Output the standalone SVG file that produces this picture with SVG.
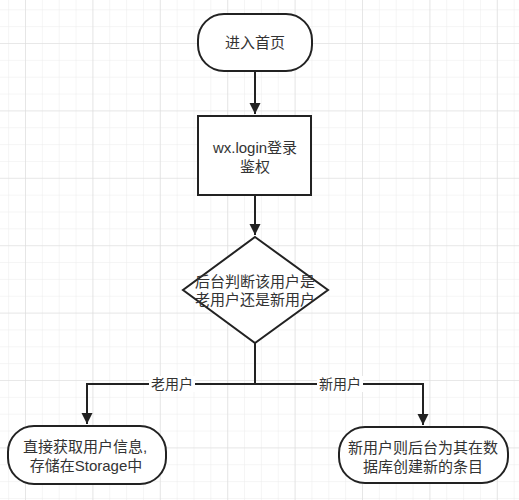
<svg xmlns="http://www.w3.org/2000/svg" width="519" height="500" viewBox="0 0 519 500">
<defs>
<pattern id="minor" x="25" y="43" width="16.85" height="16.85" patternUnits="userSpaceOnUse">
<path d="M0 0H16.85M0 0V16.85" fill="none" stroke="#ececec" stroke-width="1"/>
</pattern>
<pattern id="major" x="25" y="43" width="67.4" height="67.4" patternUnits="userSpaceOnUse">
<path d="M0 0H67.4M0 0V67.4" fill="none" stroke="#dcdcdc" stroke-width="1.2"/>
</pattern>
<marker id="arr" viewBox="0 0 10 10" refX="10" refY="5" markerWidth="5.5" markerHeight="6" orient="auto" markerUnits="strokeWidth">
<path d="M0 0L10 5L0 10z" fill="#222"/>
</marker>
<style>
.shape{fill:#fff;stroke:#222;stroke-width:2}
.t{font-family:"Liberation Sans","Noto Sans CJK SC",sans-serif;font-size:15px;fill:#333;text-anchor:middle}
.lbl{font-family:"Liberation Sans","Noto Sans CJK SC",sans-serif;font-size:14px;fill:#333;text-anchor:middle}
.edge{fill:none;stroke:#222;stroke-width:2}
</style>
</defs>
<rect width="519" height="500" fill="#fff"/>
<rect width="519" height="500" fill="url(#minor)"/>
<rect width="519" height="500" fill="url(#major)"/>
<g id="connectors">
<path class="edge" d="M255 71V114" marker-end="url(#arr)"/>
<path class="edge" d="M255 195V235" marker-end="url(#arr)"/>
<path class="edge" d="M255 343V384H87V424" marker-end="url(#arr)"/>
<path class="edge" d="M255 384H423V425" marker-end="url(#arr)"/>
<rect x="149" y="376" width="46" height="16" fill="#fff"/>
<text class="lbl" x="172" y="389">老用户</text>
<rect x="317" y="376" width="46" height="16" fill="#fff"/>
<text class="lbl" x="340" y="389">新用户</text>
</g>
<g id="start">
<rect class="shape" x="198" y="14" width="114" height="57" rx="26" ry="26"/>
<text class="t" x="255" y="48">进入首页</text>
</g>
<g id="login">
<rect class="shape" x="198" y="116" width="113" height="79"/>
<text class="t" x="255" y="153">wx.login登录</text>
<text class="t" x="255" y="172">鉴权</text>
</g>
<g id="decision">
<path class="shape" d="M255 237L328 290L255 343L183 290Z"/>
<text class="t" x="255" y="287">后台判断该用户是</text>
<text class="t" x="255" y="305">老用户还是新用户</text>
</g>
<g id="old">
<rect class="shape" x="8" y="426" width="158" height="58" rx="26" ry="26"/>
<text class="t" x="85" y="452">直接获取用户信息,</text>
<text class="t" x="86" y="471">存储在Storage中</text>
</g>
<g id="new">
<rect class="shape" x="339" y="427" width="169" height="56" rx="26" ry="26"/>
<text class="t" x="423" y="453">新用户则后台为其在数</text>
<text class="t" x="423" y="472">据库创建新的条目</text>
</g>
</svg>
